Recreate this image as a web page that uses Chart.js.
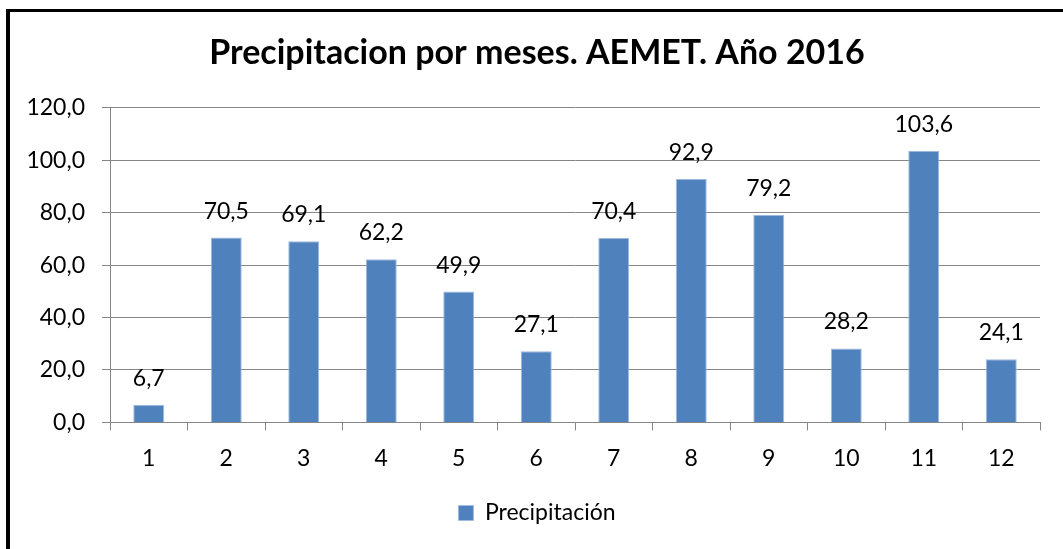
<!DOCTYPE html>
<html>
<head>
<meta charset="utf-8">
<script src="https://cdn.jsdelivr.net/npm/chart.js@4/dist/chart.umd.min.js"></script>
<style>
  html, body { margin: 0; padding: 0; background: #ffffff; }
  #wrap { position: relative; width: 1063px; height: 549px; }
</style>
</head>
<body>
<div id="wrap"><canvas id="c" width="1063" height="549"></canvas></div>
<script>
const categories = ['1','2','3','4','5','6','7','8','9','10','11','12'];
const precipitacion = [6.7, 70.5, 69.1, 62.2, 49.9, 27.1, 70.4, 92.9, 79.2, 28.2, 103.6, 24.1];
const seriesName = 'Precipitación';
const chartTitle = 'Precipitacion por meses. AEMET. Año 2016';

const FONT = "Lato, 'Open Sans', sans-serif";
const fmt = v => Number(v).toFixed(1).replace('.', ',');

const frame = {
  id: 'frame',
  beforeDraw(chart) {
    const ctx = chart.ctx;
    ctx.save();
    ctx.fillStyle = '#ffffff';
    ctx.fillRect(0, 0, chart.width, chart.height);
    ctx.fillStyle = '#000000';
    ctx.fillRect(6, 9, chart.width - 6, 3);
    ctx.fillRect(6, 9, 4, chart.height - 9);
    ctx.restore();
  }
};

const valueLabels = {
  id: 'valueLabels',
  afterDatasetsDraw(chart) {
    const ctx = chart.ctx;
    ctx.save();
    ctx.font = '23px ' + FONT;
    ctx.fillStyle = '#000000';
    ctx.textAlign = 'center';
    ctx.textBaseline = 'alphabetic';
    chart.getDatasetMeta(0).data.forEach((bar, i) => {
      ctx.fillText(fmt(chart.data.datasets[0].data[i]), bar.x, bar.y - 19);
    });
    ctx.restore();
  }
};

new Chart(document.getElementById('c'), {
  type: 'bar',
  data: {
    labels: categories,
    datasets: [{
      label: seriesName,
      data: precipitacion,
      backgroundColor: '#4F81BD',
      borderColor: '#9FBBE0',
      borderWidth: 1,
      categoryPercentage: 0.4,
      barPercentage: 1.0
    }]
  },
  options: {
    responsive: false,
    animation: false,
    layout: { padding: { left: 11, right: 0, top: 14, bottom: 14.5 } },
    plugins: {
      title: {
        display: true,
        text: chartTitle,
        color: '#000000',
        font: { family: FONT, size: 34, weight: 'bold' },
        padding: { top: 19, bottom: 34 }
      },
      legend: {
        position: 'bottom',
        labels: {
          color: '#000000',
          font: { family: FONT, size: 23 },
          boxWidth: 15,
          boxHeight: 15,
          padding: 15.5
        }
      },
      tooltip: { enabled: false }
    },
    scales: {
      x: {
        grid: { offset: true, drawOnChartArea: false, tickLength: 8, color: '#868686' },
        border: { color: '#868686', width: 1 },
        ticks: { color: '#000000', font: { family: FONT, size: 23 }, padding: 14, maxRotation: 0 }
      },
      y: {
        min: 0,
        max: 120,
        afterFit(scale) { scale.width = 99; },
        grid: { color: '#868686', tickLength: 8 },
        border: { color: '#868686', width: 1 },
        ticks: {
          stepSize: 20,
          color: '#000000',
          font: { family: FONT, size: 23 },
          padding: 17,
          callback: v => fmt(v)
        }
      },
      yRightSpace: {
        type: 'linear',
        position: 'right',
        display: true,
        afterFit(scale) { scale.width = 23; },
        grid: { display: false, drawTicks: false },
        border: { display: false },
        ticks: { display: false }
      }
    }
  },
  plugins: [frame, valueLabels]
});
</script>
</body>
</html>
